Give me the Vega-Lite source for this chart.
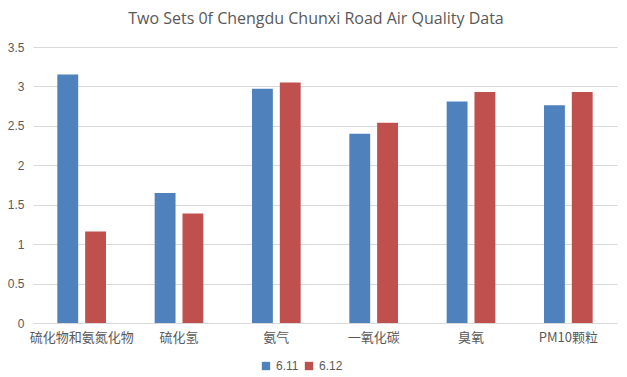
{
  "$schema": "https://vega.github.io/schema/vega-lite/v6.json",
  "autosize": {"type": "none"},
  "width": 584,
  "height": 276,
  "padding": {"left": 33, "top": 47, "right": 10, "bottom": 54},
  "background": "white",
  "title": {
    "text": "Two Sets 0f Chengdu Chunxi Road Air Quality Data",
    "anchor": "middle",
    "dx": -9,
    "offset": 14,
    "fontSize": 16,
    "font": "Open Sans",
    "fontWeight": "normal",
    "color": "#595959"
  },
  "data": {
    "values": [
      {"item": "硫化物和氨氮化物", "date": "6.11", "value": 3.15},
      {"item": "硫化物和氨氮化物", "date": "6.12", "value": 1.16},
      {"item": "硫化氢", "date": "6.11", "value": 1.65},
      {"item": "硫化氢", "date": "6.12", "value": 1.39},
      {"item": "氨气", "date": "6.11", "value": 2.97},
      {"item": "氨气", "date": "6.12", "value": 3.05},
      {"item": "一氧化碳", "date": "6.11", "value": 2.40},
      {"item": "一氧化碳", "date": "6.12", "value": 2.54},
      {"item": "臭氧", "date": "6.11", "value": 2.81},
      {"item": "臭氧", "date": "6.12", "value": 2.93},
      {"item": "PM10颗粒", "date": "6.11", "value": 2.76},
      {"item": "PM10颗粒", "date": "6.12", "value": 2.93}
    ]
  },
  "mark": {"type": "bar"},
  "encoding": {
    "x": {
      "field": "item",
      "type": "nominal",
      "sort": null,
      "scale": {"paddingInner": 0.5, "paddingOuter": 0.25},
      "axis": {
        "title": null,
        "labelAngle": 0,
        "domain": false,
        "ticks": false,
        "labelPadding": 8,
        "labelFontSize": 13,
        "labelFont": "Noto Sans CJK SC",
        "labelColor": "#595959"
      }
    },
    "xOffset": {
      "field": "date",
      "type": "nominal",
      "scale": {"paddingInner": 0.25, "paddingOuter": 0}
    },
    "y": {
      "field": "value",
      "type": "quantitative",
      "scale": {"domain": [0, 3.5], "nice": false},
      "axis": {
        "title": null,
        "values": [0, 0.5, 1, 1.5, 2, 2.5, 3, 3.5],
        "format": "~g",
        "domain": false,
        "ticks": false,
        "labelPadding": 9,
        "labelFontSize": 12,
        "labelFont": "Liberation Sans",
        "labelColor": "#595959",
        "gridColor": "#D9D9D9",
        "gridWidth": 1
      }
    },
    "color": {
      "field": "date",
      "type": "nominal",
      "scale": {"domain": ["6.11", "6.12"], "range": ["#4F81BD", "#C0504D"]},
      "legend": {
        "title": null,
        "orient": "none",
        "legendX": 227,
        "legendY": 313,
        "direction": "horizontal",
        "symbolType": "square",
        "symbolSize": 70,
        "symbolStrokeWidth": 0,
        "labelFontSize": 12,
        "labelFont": "Liberation Sans",
        "labelColor": "#595959",
        "columnPadding": 4
      }
    }
  },
  "config": {"view": {"stroke": null}}
}
